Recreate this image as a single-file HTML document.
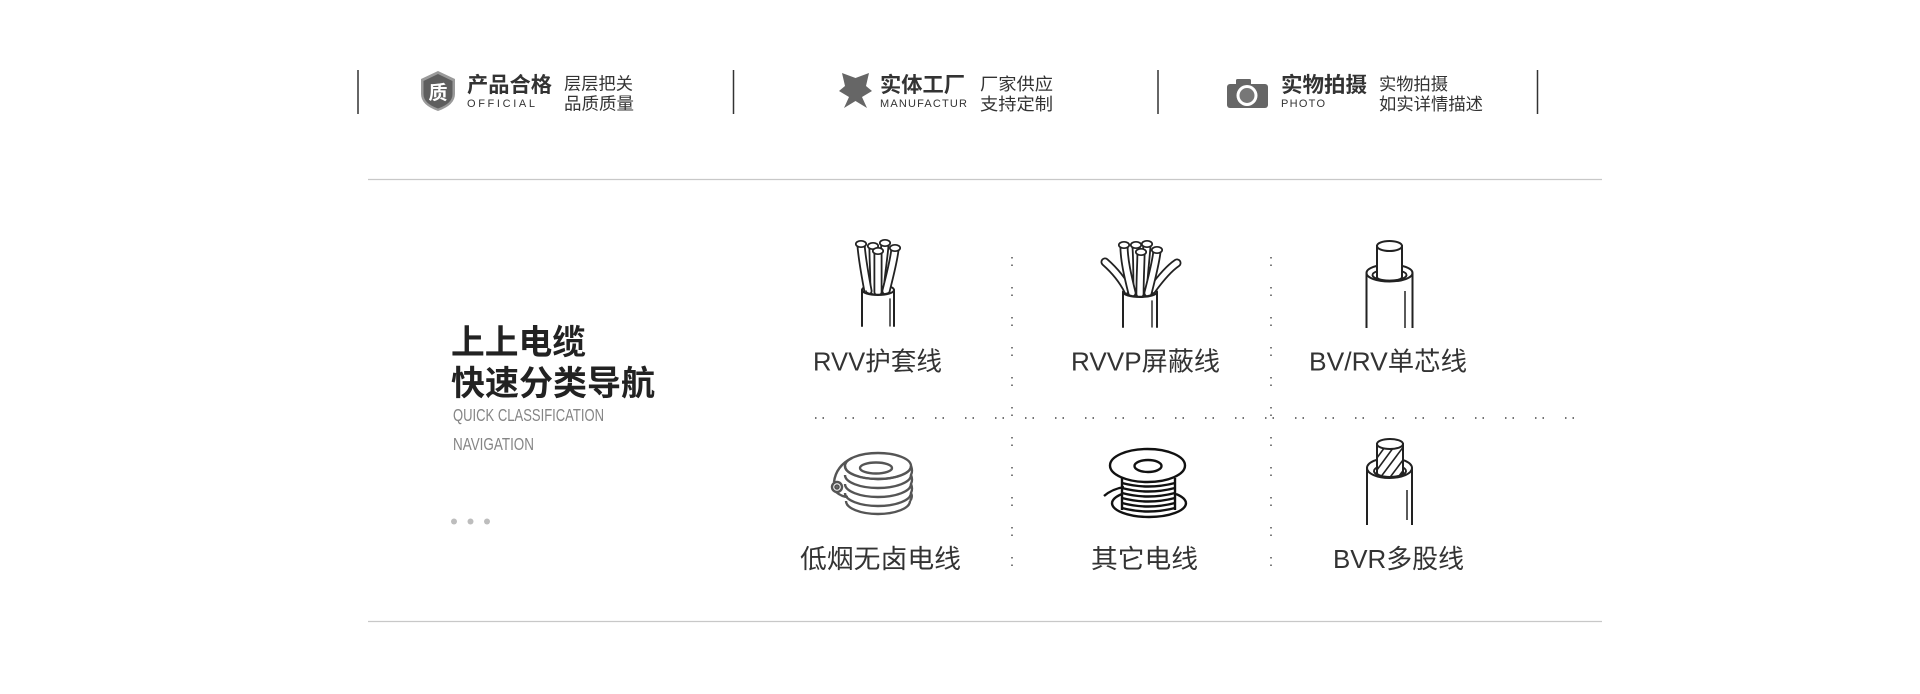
<!DOCTYPE html>
<html><head><meta charset="utf-8"><style>
html,body{margin:0;padding:0;background:#fff;}
svg{display:block;}
text{font-family:"Liberation Sans","Noto Sans CJK SC",sans-serif;}
</style></head><body>
<svg width="1920" height="694" viewBox="0 0 1920 694" xmlns="http://www.w3.org/2000/svg">
<defs>
<clipPath id="cc"><path d="M1377 444 L1377 473 A13 4 0 0 0 1403 473 L1403 444 Z"/></clipPath>
</defs>

<!-- top separators -->
<g stroke="#333" stroke-width="1.5">
<line x1="358" y1="70" x2="358" y2="114"/>
<line x1="733.5" y1="70" x2="733.5" y2="114"/>
<line x1="1158" y1="70" x2="1158" y2="114"/>
<line x1="1537.5" y1="70" x2="1537.5" y2="114"/>
</g>

<!-- shield icon -->
<path d="M438 71 L455 79 L455 94 Q455 105 438 111 Q421 105 421 94 L421 79 Z" fill="#9a9a9a"/>
<path d="M438 74 L452.5 81 L452.5 94 Q452.5 103.5 438 108.5 Q423.5 103.5 423.5 94 L423.5 81 Z" fill="#5e5e5e"/>
<text x="438" y="99" font-size="19" font-weight="bold" fill="#fff" text-anchor="middle">质</text>

<text x="467" y="92" font-size="21" font-weight="bold" fill="#333" textLength="85" lengthAdjust="spacingAndGlyphs">产品合格</text>
<text x="467" y="107" font-size="11" fill="#333" textLength="68" lengthAdjust="spacing">OFFICIAL</text>
<text x="564" y="89.5" font-size="17" fill="#333" textLength="69" lengthAdjust="spacingAndGlyphs">层层把关</text>
<text x="564" y="109.5" font-size="17" fill="#333" textLength="70" lengthAdjust="spacingAndGlyphs">品质质量</text>

<!-- star icon -->
<polygon points="842,73 855.5,78 869,73 866,86 872,91 862,97 867,108 855.5,101 844,108 849,97 839,91 845,86" fill="#666"/>

<text x="880" y="92" font-size="21" font-weight="bold" fill="#333" textLength="85" lengthAdjust="spacingAndGlyphs">实体工厂</text>
<text x="880" y="107" font-size="11" fill="#333" textLength="87" lengthAdjust="spacing">MANUFACTUR</text>
<text x="980" y="90" font-size="17" fill="#333" textLength="73" lengthAdjust="spacingAndGlyphs">厂家供应</text>
<text x="980" y="110" font-size="17" fill="#333" textLength="73" lengthAdjust="spacingAndGlyphs">支持定制</text>

<!-- camera icon -->
<rect x="1236" y="79" width="15" height="8" rx="1.5" fill="#666"/>
<rect x="1227" y="84" width="41" height="24" rx="3" fill="#666"/>
<circle cx="1247" cy="95.5" r="10.5" fill="#fff"/>
<circle cx="1247" cy="95.5" r="7.5" fill="#777"/>

<text x="1281" y="92" font-size="21" font-weight="bold" fill="#333" textLength="86" lengthAdjust="spacingAndGlyphs">实物拍摄</text>
<text x="1281" y="107" font-size="11" fill="#333" textLength="44" lengthAdjust="spacing">PHOTO</text>
<text x="1379" y="90" font-size="17" fill="#333" textLength="69" lengthAdjust="spacingAndGlyphs">实物拍摄</text>
<text x="1379" y="110" font-size="17" fill="#333" textLength="104" lengthAdjust="spacingAndGlyphs">如实详情描述</text>

<!-- horizontal rules -->
<line x1="368" y1="179.5" x2="1602" y2="179.5" stroke="#c8c8c8" stroke-width="1.2"/>
<line x1="368" y1="621.5" x2="1602" y2="621.5" stroke="#c8c8c8" stroke-width="1.2"/>

<!-- heading -->
<text x="451" y="354" font-size="34" font-weight="bold" fill="#222" textLength="135" lengthAdjust="spacingAndGlyphs">上上电缆</text>
<text x="451" y="395" font-size="34" font-weight="bold" fill="#222" textLength="204" lengthAdjust="spacingAndGlyphs">快速分类导航</text>
<text x="453" y="421" font-size="17.5" fill="#858585" textLength="151" lengthAdjust="spacingAndGlyphs">QUICK CLASSIFICATION</text>
<text x="453" y="450" font-size="17.5" fill="#858585" textLength="81" lengthAdjust="spacingAndGlyphs">NAVIGATION</text>
<circle cx="454" cy="521.5" r="3" fill="#bdbdbd"/>
<circle cx="470.5" cy="521.5" r="3" fill="#bdbdbd"/>
<circle cx="487" cy="521.5" r="3" fill="#bdbdbd"/>

<!-- dotted grid -->
<g stroke="#444" stroke-width="1.4" fill="none">
<line x1="1012" y1="257" x2="1012" y2="584" stroke-dasharray="1.5 6 1.5 21"/>
<line x1="1271" y1="257" x2="1271" y2="584" stroke-dasharray="1.5 6 1.5 21"/>
<line x1="815" y1="418" x2="1574" y2="418" stroke-dasharray="1.5 6 1.5 21"/>
</g>

<!-- labels -->
<g font-size="26" fill="#333">
<text x="813" y="370.5" textLength="129" lengthAdjust="spacingAndGlyphs">RVV护套线</text>
<text x="1071" y="370.5" textLength="149" lengthAdjust="spacingAndGlyphs">RVVP屏蔽线</text>
<text x="1309" y="370.5" textLength="158" lengthAdjust="spacingAndGlyphs">BV/RV单芯线</text>
<text x="800" y="568" textLength="161" lengthAdjust="spacingAndGlyphs">低烟无卤电线</text>
<text x="1091" y="568" textLength="107" lengthAdjust="spacingAndGlyphs">其它电线</text>
<text x="1333" y="568" textLength="131" lengthAdjust="spacingAndGlyphs">BVR多股线</text>
</g>

<!-- RVV icon -->
<g fill="none" stroke-linecap="round">
<path d="M862 290 A16 5 0 0 1 894 290" stroke="#222" stroke-width="2"/>
<g stroke="#222" stroke-width="9">
<path d="M880 291 C881 275 884 258 885 244"/>
<path d="M874 291 C874 275 873 258 873 247"/>
</g>
<g stroke="#fff" stroke-width="5.4">
<path d="M880 291 C881 275 884 258 885 244"/>
<path d="M874 291 C874 275 873 258 873 247"/>
</g>
<ellipse cx="885" cy="243" rx="5.2" ry="3.2" fill="#fff" stroke="#222" stroke-width="1.7"/>
<ellipse cx="873" cy="246" rx="5.2" ry="3.2" fill="#fff" stroke="#222" stroke-width="1.7"/>
<g stroke="#222" stroke-width="9">
<path d="M886 291 C890 275 894 260 895 249"/>
<path d="M868 291 C865 275 862 258 861 245"/>
</g>
<g stroke="#fff" stroke-width="5.4">
<path d="M886 291 C890 275 894 260 895 249"/>
<path d="M868 291 C865 275 862 258 861 245"/>
</g>
<ellipse cx="895" cy="248" rx="5.2" ry="3.2" fill="#fff" stroke="#222" stroke-width="1.7"/>
<ellipse cx="861" cy="244" rx="5.2" ry="3.2" fill="#fff" stroke="#222" stroke-width="1.7"/>
<path d="M878 292 C878 275 878 262 878 252" stroke="#222" stroke-width="9"/>
<path d="M878 292 C878 275 878 262 878 252" stroke="#fff" stroke-width="5.4"/>
<ellipse cx="878" cy="251" rx="5.2" ry="3.2" fill="#fff" stroke="#222" stroke-width="1.7"/>
<path d="M862 290 A16 5 0 0 0 894 290 L894 326 L862 326 Z" fill="#fff"/>
<g stroke="#222" stroke-width="2">
<line x1="862" y1="290" x2="862" y2="326"/>
<line x1="894" y1="290" x2="894" y2="326"/>
<path d="M862 290 A16 5 0 0 0 894 290"/>
</g>
<line x1="890" y1="299" x2="890" y2="326" stroke="#222" stroke-width="1.4"/>
<path d="M866 291 A12 3.5 0 0 0 890 291" stroke="#222" stroke-width="1.4"/>
</g>

<!-- RVVP icon -->
<g fill="none" stroke-linecap="round">
<path d="M1123 292 A17 5 0 0 1 1157 292" stroke="#222" stroke-width="2"/>
<g stroke="#222" stroke-width="9">
<path d="M1128 291 C1122 279 1113 269 1105 262"/>
<path d="M1152 290 C1160 279 1168 269 1177 263"/>
</g>
<g stroke="#fff" stroke-width="5.4">
<path d="M1128 291 C1122 279 1113 269 1105 262"/>
<path d="M1152 290 C1160 279 1168 269 1177 263"/>
</g>
<g stroke="#222" stroke-width="9">
<path d="M1143 293 C1144 276 1146 258 1147 245"/>
<path d="M1137 293 C1137 276 1137 258 1136 246"/>
</g>
<g stroke="#fff" stroke-width="5.4">
<path d="M1143 293 C1144 276 1146 258 1147 245"/>
<path d="M1137 293 C1137 276 1137 258 1136 246"/>
</g>
<ellipse cx="1147" cy="244" rx="5.2" ry="3.2" fill="#fff" stroke="#222" stroke-width="1.7"/>
<ellipse cx="1136" cy="245" rx="5.2" ry="3.2" fill="#fff" stroke="#222" stroke-width="1.7"/>
<g stroke="#222" stroke-width="9">
<path d="M1148 293 C1152 277 1156 262 1157 251"/>
<path d="M1132 293 C1128 277 1124 260 1124 246"/>
</g>
<g stroke="#fff" stroke-width="5.4">
<path d="M1148 293 C1152 277 1156 262 1157 251"/>
<path d="M1132 293 C1128 277 1124 260 1124 246"/>
</g>
<ellipse cx="1157" cy="250" rx="5.2" ry="3.2" fill="#fff" stroke="#222" stroke-width="1.7"/>
<ellipse cx="1124" cy="245" rx="5.2" ry="3.2" fill="#fff" stroke="#222" stroke-width="1.7"/>
<path d="M1140 294 C1140 277 1141 263 1141 253" stroke="#222" stroke-width="9"/>
<path d="M1140 294 C1140 277 1141 263 1141 253" stroke="#fff" stroke-width="5.4"/>
<ellipse cx="1141" cy="252" rx="5.2" ry="3.2" fill="#fff" stroke="#222" stroke-width="1.7"/>
<path d="M1123 292 A17 5 0 0 0 1157 292 L1157 327 L1123 327 Z" fill="#fff"/>
<g stroke="#222" stroke-width="2">
<line x1="1123" y1="292" x2="1123" y2="327"/>
<line x1="1157" y1="292" x2="1157" y2="327"/>
<path d="M1123 292 A17 5 0 0 0 1157 292"/>
</g>
<line x1="1152" y1="301" x2="1152" y2="327" stroke="#222" stroke-width="1.4"/>
<path d="M1127 293 A13 3.5 0 0 0 1153 293" stroke="#222" stroke-width="1.4"/>
</g>

<!-- single core icon -->
<g stroke="#222" stroke-width="2">
<line x1="1366.5" y1="273" x2="1366.5" y2="328"/>
<line x1="1412.5" y1="273" x2="1412.5" y2="328"/>
<line x1="1405" y1="291" x2="1405" y2="328" stroke-width="1.5"/>
<ellipse cx="1389.5" cy="273" rx="23" ry="8.5" fill="#fff"/>
<ellipse cx="1389.5" cy="275" rx="17" ry="5.5" fill="#fff" stroke-width="1.8"/>
<path d="M1377 246 L1377 277 A12.5 4 0 0 0 1402 277 L1402 246 Z" fill="#fff"/>
<ellipse cx="1389.5" cy="246" rx="12.5" ry="5" fill="#fff"/>
<path d="M1372.5 275 A17 5.5 0 0 0 1406.5 275" fill="none" stroke-width="1.8"/>
</g>

<!-- stranded icon -->
<g stroke="#222" stroke-width="2">
<line x1="1367" y1="468" x2="1367" y2="525"/>
<line x1="1412" y1="468" x2="1412" y2="525"/>
<line x1="1407" y1="490" x2="1407" y2="520" stroke-width="1.5"/>
<ellipse cx="1389.5" cy="468" rx="22.5" ry="10" fill="#fff"/>
<ellipse cx="1390" cy="471" rx="16" ry="6" fill="#fff" stroke-width="1.8"/>
<path d="M1377 444 L1377 473 A13 4 0 0 0 1403 473 L1403 444 Z" fill="#fff"/>
<g clip-path="url(#cc)" stroke-width="1.6">
<line x1="1374" y1="462" x2="1390" y2="440"/>
<line x1="1374" y1="474" x2="1396" y2="444"/>
<line x1="1380" y1="478" x2="1404" y2="446"/>
<line x1="1388" y1="480" x2="1406" y2="456"/>
<line x1="1396" y1="480" x2="1408" y2="464"/>
</g>
<ellipse cx="1390" cy="444" rx="13" ry="5" fill="#fff"/>
<path d="M1374 471 A16 6 0 0 0 1406 471" fill="none" stroke-width="1.8"/>
</g>

<!-- coil icon -->
<g fill="none" stroke="#555" stroke-width="2.4">
<path d="M845 466 A33 13 0 0 0 911 466"/>
<path d="M845 475 A33 13 0 0 0 911 475"/>
<path d="M845 484 A33 13 0 0 0 911 484"/>
<path d="M845 493 A33 13 0 0 0 911 493"/>
<path d="M846 501 A32 13 0 0 0 910 501"/>
<path d="M911 466 Q913 471 911 475 Q913 480 911 484 Q913 489 911 493 Q913 497 910 501"/>
<ellipse cx="878" cy="466" rx="33" ry="13"/>
<ellipse cx="876" cy="468" rx="16" ry="5.5"/>
<path d="M834 482 Q836 466 852 458"/>
<path d="M836 492 Q842 497 848 497"/>
<circle cx="837" cy="487" r="5" fill="#fff"/>
<circle cx="837" cy="487" r="1.6"/>
</g>

<!-- spool icon -->
<g fill="none" stroke="#111" stroke-width="2.4">
<path d="M1112 503 A37 14 0 0 0 1186 503"/>
<path d="M1112 503 A37 14 0 0 1 1122 494"/>
<path d="M1186 503 A37 14 0 0 0 1176 494"/>
<line x1="1122" y1="478" x2="1122" y2="510"/>
<line x1="1175" y1="478" x2="1175" y2="510"/>
<path d="M1122 483 Q1148 490 1175 483"/>
<path d="M1122 488 Q1148 495 1175 488"/>
<path d="M1122 493 Q1148 500 1175 493"/>
<path d="M1122 498 Q1148 505 1175 498"/>
<path d="M1122 503 Q1148 510 1175 503"/>
<path d="M1122 508 Q1148 515 1175 508"/>
<path d="M1104 496 Q1112 489 1124 487"/>
<ellipse cx="1147.5" cy="465.5" rx="37.5" ry="16.5" fill="#fff"/>
<ellipse cx="1148" cy="466" rx="13.5" ry="6"/>
</g>

</svg>
</body></html>
